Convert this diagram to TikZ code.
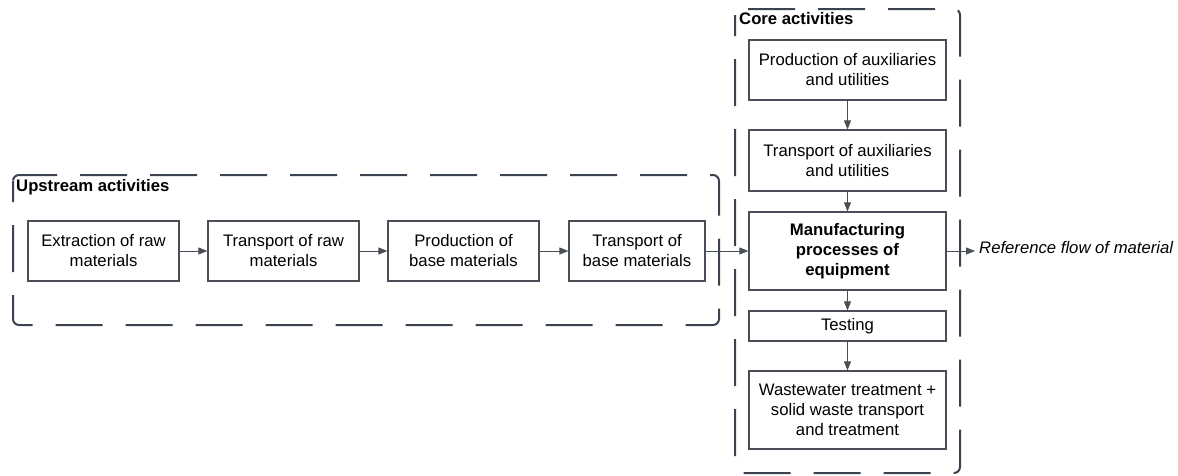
\documentclass[tikz,border=0pt]{standalone}
\usepackage{fontspec}
\setmainfont{Liberation Sans}
\usetikzlibrary{arrows.meta}
\definecolor{framegray}{HTML}{3B4250}
\definecolor{boxgray}{HTML}{4A4F57}
\begin{document}
\begin{tikzpicture}[x=1pt,y=-1pt,
    every node/.style={font=\fontsize{16.7}{20}\selectfont},
    stage/.style={draw=boxgray,line width=1.2pt,align=center,inner sep=0pt,
      minimum width=151pt,minimum height=60pt},
    core/.style={stage,minimum width=197pt},
    frame/.style={draw=framegray,line width=2pt,rounded corners=6pt,
      dash pattern=on 47pt off 23pt,dash phase=26pt},
    flow/.style={draw=boxgray,line width=0.9pt,-{Triangle[length=9pt,width=7pt]}},
    title/.style={font=\fontsize{16.7}{20}\selectfont\bfseries,anchor=west,inner sep=0pt}]
             \useasboundingbox (0,0) rectangle (1178,475);
             \draw[frame] (13,175) rectangle (719,325);
             \draw[frame] (735,9) rectangle (960,473);
             \node[title] (up) at (16,187) {Upstream activities};
             \node[title] (co) at (739,19) {Core activities};
             \node[stage] (extract) at (103.5,251) {Extraction of raw\\materials};
             \node[stage] (rawtrans) at (283.5,251) {Transport of raw\\materials};
             \node[stage] (baseprod) at (463.5,251) {Production of\\base materials};
             \node[stage,minimum width=136pt] (basetrans) at (637,251) {Transport of\\base materials};
             \node[core] (auxprod) at (847.5,70) {Production of auxiliaries\\and utilities};
             \node[core,minimum height=61pt] (auxtrans) at (847.5,160.5) {Transport of auxiliaries\\and utilities};
             \node[core,minimum height=78pt,font=\fontsize{16.7}{20}\selectfont\bfseries] (manuf) at (847.5,251) {Manufacturing\\processes of\\equipment};
             \node[core,minimum height=30pt] (test) at (847.5,326) {Testing};
             \node[core,minimum height=78pt] (waste) at (847.5,410) {Wastewater treatment +\\solid waste transport\\and treatment};
             \node[anchor=west,inner sep=0pt,font=\fontsize{16.7}{20}\selectfont\itshape] (ref) at (979,248) {Reference flow of material};
             \draw[flow] (extract) -- (rawtrans);
             \draw[flow] (rawtrans) -- (baseprod);
             \draw[flow] (baseprod) -- (basetrans);
             \draw[flow] (basetrans) -- (manuf);
             \draw[flow] (auxprod) -- (auxtrans);
             \draw[flow] (auxtrans) -- (manuf);
             \draw[flow] (manuf) -- (test);
             \draw[flow] (test) -- (waste);
             \draw[flow] (manuf.east) -- ([xshift=-4pt]ref.west |- manuf.east);
            \end{tikzpicture}
\end{document}
